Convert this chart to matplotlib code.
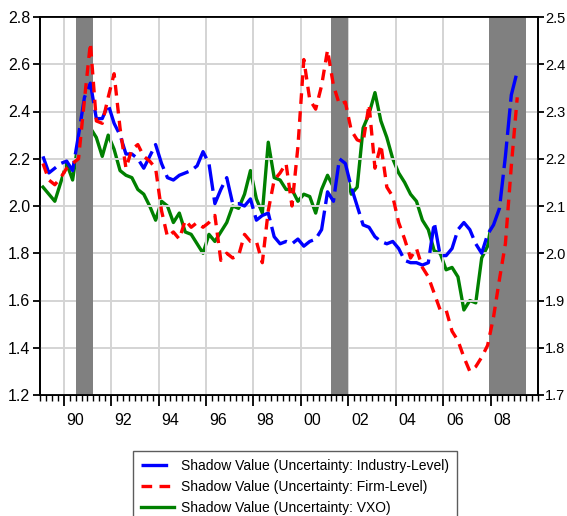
import numpy as np
import matplotlib
matplotlib.use('Agg')
import matplotlib.pyplot as plt
from matplotlib.ticker import MultipleLocator, FuncFormatter

plt.rcParams['font.family'] = ['Liberation Sans', 'DejaVu Sans']

# quarterly data, 1989Q1 onwards
start_year = 1989
industry = [2.21, 2.14, 2.16, 2.18, 2.19, 2.15, 2.30, 2.46, 2.52, 2.37, 2.37, 2.43, 2.35, 2.30, 2.22, 2.22, 2.20, 2.16, 2.21, 2.26,
            2.18, 2.12, 2.11, 2.13, 2.14, 2.15, 2.17, 2.23, 2.18, 2.01, 2.07, 2.12, 2.01, 2.01, 2.00, 2.03, 1.94, 1.96, 1.97, 1.87,
            1.84, 1.85, 1.84, 1.86, 1.83, 1.85, 1.86, 1.90, 2.06, 2.02, 2.20, 2.18, 2.08, 2.00, 1.92, 1.91, 1.87, 1.85, 1.84, 1.85,
            1.82, 1.77, 1.76, 1.76, 1.75, 1.76, 1.93, 1.79, 1.79, 1.82, 1.90, 1.93, 1.90, 1.84, 1.80, 1.88, 1.92, 1.99, 2.21, 2.47,
            2.57]
firm = [2.18, 2.11, 2.09, 2.12, 2.16, 2.18, 2.20, 2.45, 2.69, 2.36, 2.35, 2.46, 2.56, 2.33, 2.16, 2.24, 2.26, 2.21, 2.19, 2.16,
        1.98, 1.87, 1.89, 1.86, 1.94, 1.91, 1.93, 1.91, 1.93, 1.96, 1.77, 1.80, 1.78, 1.79, 1.88, 1.85, 1.85, 1.76, 1.98, 2.11,
        2.14, 2.18, 2.00, 2.25, 2.62, 2.45, 2.41, 2.51, 2.66, 2.51, 2.43, 2.44, 2.32, 2.28, 2.27, 2.43, 2.16, 2.26, 2.08, 2.04,
        1.93, 1.86, 1.78, 1.82, 1.74, 1.70, 1.63, 1.56, 1.56, 1.47, 1.43, 1.36, 1.30, 1.32, 1.36, 1.41, 1.53, 1.69, 1.84, 2.17,
        2.46]
# VXO series is on the right axis
vxo = [2.14, 2.125, 2.11, 2.15, 2.19, 2.155, 2.24, 2.30, 2.265, 2.245, 2.205, 2.25, 2.22, 2.175, 2.165, 2.16, 2.135, 2.125, 2.10, 2.07,
       2.11, 2.10, 2.065, 2.085, 2.045, 2.04, 2.02, 2.00, 2.04, 2.025, 2.045, 2.065, 2.10, 2.095, 2.125, 2.175, 2.115, 2.085, 2.235, 2.16,
       2.155, 2.135, 2.135, 2.11, 2.125, 2.12, 2.085, 2.135, 2.165, 2.14, 2.175, 2.18, 2.125, 2.14, 2.265, 2.295, 2.34, 2.28, 2.245, 2.20,
       2.17, 2.15, 2.125, 2.11, 2.07, 2.05, 2.005, 2.00, 1.965, 1.97, 1.95, 1.88, 1.90, 1.895, 1.99, 2.015, 2.09, 2.055, 2.185, 2.31,
       2.37, 2.38]
recessions = [(1990.5, 1991.25), (2001.25, 2002.0), (2007.95, 2009.5)]
labels = ['Shadow Value (Uncertainty: Industry-Level)',
          'Shadow Value (Uncertainty: Firm-Level)',
          'Shadow Value (Uncertainty: VXO)']

def qdates(n):
    return start_year + (np.arange(n) + 0.5) / 4.0

fig = plt.figure(figsize=(5.67, 5.16), dpi=100)
ax = fig.add_axes([40/567, 1-395/516, 498/567, 378/516])
ax2 = ax.twinx()

for a, b in recessions:
    ax.axvspan(a, b, color='#808080', lw=0, zorder=1)

l1, = ax.plot(qdates(len(industry)), industry, color='#0000ff', lw=2.4, dashes=(8, 2), zorder=3)
l2, = ax.plot(qdates(len(firm)), firm, color='#ff0000', lw=2.4, dashes=(3.2, 2.2), zorder=3)
l3, = ax2.plot(qdates(len(vxo)), vxo, color='#008000', lw=2.4, zorder=3)

ax.set_xlim(1989, 2010)
ax.set_ylim(1.2, 2.8)
ax2.set_ylim(1.7, 2.5)

ax.yaxis.set_major_locator(MultipleLocator(0.2))
ax.yaxis.set_major_formatter(FuncFormatter(lambda v, p: '%.1f' % v))
ax2.yaxis.set_major_locator(MultipleLocator(0.1))
ax2.yaxis.set_major_formatter(FuncFormatter(lambda v, p: '%.1f' % v))

ax.set_xticks(np.arange(1990, 2010, 2))
ax.set_xticklabels([])
ax.xaxis.set_minor_locator(MultipleLocator(0.25))

def year_label(v, p):
    frac = v - np.floor(v)
    yr = int(np.floor(v))
    if abs(frac - 0.5) < 1e-6 and yr % 2 == 0:
        return '%02d' % (yr % 100)
    return ''
ax.xaxis.set_minor_formatter(FuncFormatter(year_label))

ax.grid(True, which='major', color='#d4d4d4', lw=1.4, zorder=0)
ax.set_axisbelow(True)

ax.tick_params(axis='x', which='major', direction='out', length=8, width=1.3, labelsize=11.5)
ax.tick_params(axis='x', which='minor', direction='out', length=4, width=1.0, labelsize=11.5, pad=9)
ax.tick_params(axis='y', direction='out', length=5, width=1.3, labelsize=11.5, pad=2)
ax2.tick_params(axis='y', direction='out', length=4, width=1.3, labelsize=10.5, pad=1)
for s in list(ax.spines.values()) + list(ax2.spines.values()):
    s.set_linewidth(1.3)

ax.set_zorder(ax2.get_zorder() + 1)
ax.patch.set_visible(False)
ax2.grid(False)

leg = fig.legend([l1, l2, l3], labels, loc='upper left',
                 bbox_to_anchor=(133/567, 1-451/516), borderaxespad=0, fontsize=10,
                 frameon=True, fancybox=False, edgecolor='#333333',
                 handlelength=2.4, borderpad=0.55, labelspacing=0.5, handletextpad=0.5)
leg.get_frame().set_linewidth(1.0)

fig.savefig('out.png', dpi=100)
